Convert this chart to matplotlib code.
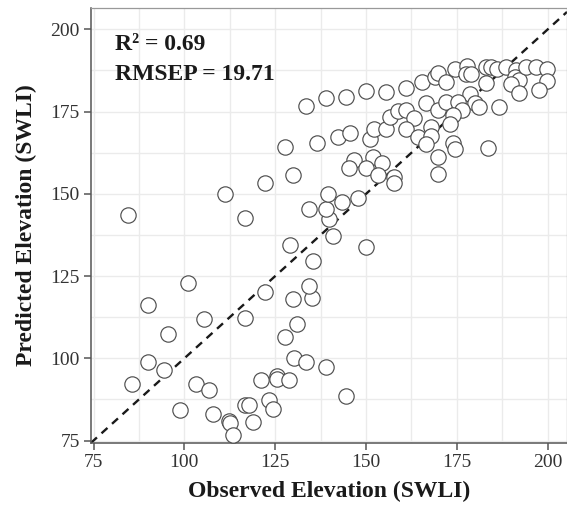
# Observado vs predito (SWLI)
import matplotlib
matplotlib.use('Agg')
from matplotlib import pyplot as plt
import numpy as np

# Dados
observado = [84.4, 116.6, 111.1, 101.1, 90.0, 105.5, 116.6, 95.6, 90.1, 94.5,
             85.7, 103.3, 106.8, 98.9, 107.8, 112.3, 112.5, 113.3, 116.7, 117.9,
             118.8, 121.1, 123.2, 124.4, 125.5, 125.6, 128.9, 130.1, 133.4, 138.9,
             144.4, 127.8, 131.1, 129.9, 135.0, 134.4, 122.2, 135.5, 129.2, 150.0,
             141.0, 139.7, 134.4, 138.9, 139.6, 143.3, 147.8, 122.2, 130.0, 127.8,
             136.6, 133.4, 138.9, 144.4, 150.0, 155.5, 161.0, 165.4, 169.0, 169.8,
             142.2, 145.7, 151.0, 152.2, 155.4, 156.6, 158.7, 161.1, 163.2, 160.9,
             164.4, 166.6, 169.8, 167.8, 168.0, 166.6, 169.8, 169.8, 146.7, 152.0,
             154.5, 145.4, 149.9, 153.2, 157.7, 157.7, 172.1, 174.4, 177.7, 177.6,
             179.0, 183.0, 184.4, 185.9, 188.6, 191.4, 191.1, 192.0, 190.0, 194.1,
             196.7, 199.9, 199.9, 197.6, 192.1, 183.1, 178.6, 180.1, 181.2, 186.6,
             172.1, 175.4, 176.3, 174.0, 173.1, 173.8, 174.4, 183.6]
predito = [143.6, 142.8, 149.8, 122.9, 116.2, 112.0, 112.3, 107.4, 99.0, 96.5,
           92.2, 92.2, 90.4, 84.3, 83.1, 80.9, 80.3, 76.7, 85.8, 85.8,
           80.6, 93.4, 87.3, 84.5, 94.6, 93.6, 93.4, 100.2, 98.9, 97.4,
           88.5, 106.6, 110.5, 118.1, 118.2, 122.1, 120.1, 129.7, 134.5, 133.9,
           137.2, 142.3, 145.5, 145.4, 149.8, 147.6, 148.6, 153.2, 155.8, 164.1,
           165.6, 176.8, 179.0, 179.3, 181.4, 181.0, 182.1, 183.9, 185.5, 186.7,
           167.4, 168.4, 166.6, 169.7, 169.7, 173.5, 175.2, 175.4, 173.0, 169.7,
           167.2, 177.5, 175.4, 170.3, 167.7, 165.1, 161.3, 156.1, 160.3, 161.2,
           159.5, 157.8, 157.8, 155.7, 155.1, 153.2, 184.1, 187.8, 188.8, 186.5,
           186.3, 188.7, 188.5, 187.8, 188.7, 187.6, 185.6, 184.6, 183.5, 188.7,
           188.7, 188.1, 184.2, 181.7, 180.8, 183.6, 180.5, 177.6, 176.3, 176.5,
           178.0, 177.8, 175.4, 174.0, 171.1, 165.6, 163.7, 164.0]
ticks = [75, 100, 125, 150, 175, 200]
r2 = 0.69
rmsep = 19.71

plt.rcParams['font.family'] = ['Liberation Serif', 'DejaVu Serif']

fig = plt.figure(figsize=(5.67, 5.15), dpi=100)
ax = fig.add_axes([0.1605, 0.1395, 0.8395, 0.845])

# Grade (maior e menor)
ax.set_xticks(ticks)
ax.set_yticks(ticks)
menores = [t + 12.5 for t in ticks]
ax.set_xticks(menores, minor=True)
ax.set_yticks(menores, minor=True)
ax.grid(True, which='both', color='#ebebeb', linewidth=1.0)
ax.set_axisbelow(True)

# Linha 1:1
ax.axline((75, 75), slope=1, color='#1a1a1a', linewidth=1.7,
          linestyle=(0, (3.4, 2.6)), zorder=2)

# Pontos
ax.scatter(observado, predito, s=122, facecolor='white', edgecolor='#4d4d4d',
           linewidth=0.85, zorder=3)

ax.set_xlim(74.3, 205.3)
ax.set_ylim(74.2, 206.5)

ax.text(80.9, 195.3, 'R² = %.2f' % r2, fontsize=17, fontweight='bold',
        va='center', ha='left', color='#1a1a1a', zorder=4)
ax.text(80.9, 186.2, 'RMSEP = %.2f' % rmsep, fontsize=17, fontweight='bold',
        va='center', ha='left', color='#1a1a1a', zorder=4)

ax.set_xlabel('Observed Elevation (SWLI)', fontsize=17, fontweight='bold',
              color='#1a1a1a', labelpad=7)
ax.set_ylabel('Predicted Elevation (SWLI)', fontsize=17, fontweight='bold',
              color='#1a1a1a', labelpad=10)

for lado in ['left', 'bottom']:
    ax.spines[lado].set_color('#555555')
    ax.spines[lado].set_linewidth(1.1)
for lado in ['top', 'right']:
    ax.spines[lado].set_color('#999999')
    ax.spines[lado].set_linewidth(0.9)

ax.tick_params(which='major', direction='out', length=5, width=1.1,
               color='#555555', labelsize=14, labelcolor='#333333', pad=3)
ax.tick_params(which='minor', length=0)

plt.savefig('out.png', dpi=100)
